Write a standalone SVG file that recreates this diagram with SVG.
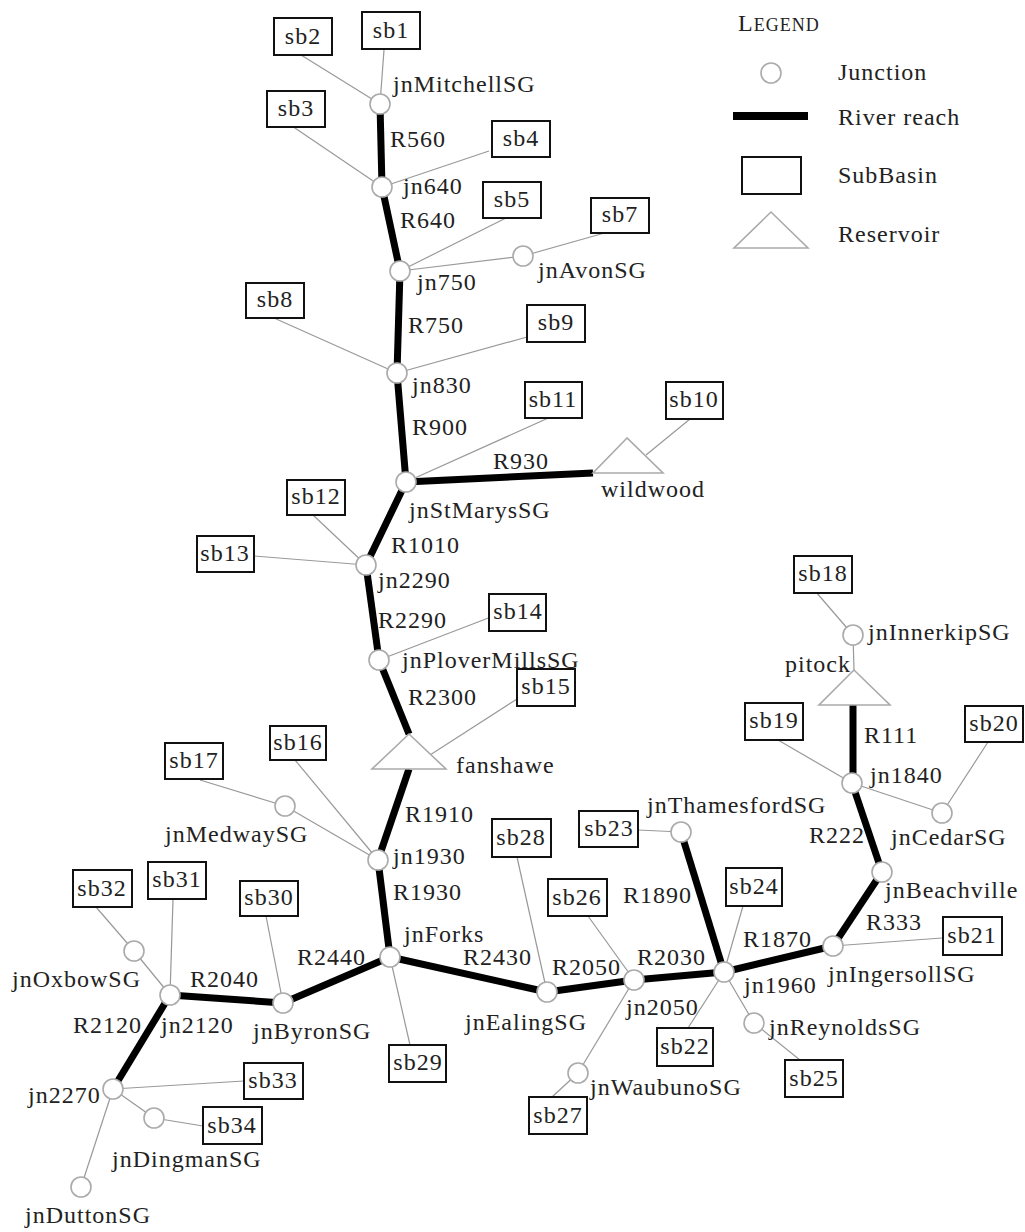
<svg xmlns="http://www.w3.org/2000/svg" width="1025" height="1232" viewBox="0 0 1025 1232">
<style>
text{font-family:"Liberation Serif","Times New Roman",serif;font-size:24px;fill:#222;letter-spacing:1px}
.bt{text-anchor:middle}
.jn{fill:#fff;stroke:#aaa;stroke-width:1.6}
.sb{fill:#fff;stroke:#111;stroke-width:2}
.rs{fill:#fff;stroke:#aaa;stroke-width:1.6}
.rv{stroke:#000;stroke-width:7;fill:none;stroke-linecap:butt}
.ln{stroke:#999;stroke-width:1.2;fill:none}
</style>
<rect width="1025" height="1232" fill="#fff"/>
<g id="legend">
<text x="738" y="31">L<tspan font-size="18">EGEND</tspan></text>
<circle class="jn" cx="771" cy="73" r="10"/>
<text x="838" y="80">Junction</text>
<line x1="733" y1="116" x2="808" y2="116" stroke="#000" stroke-width="8"/>
<text x="838" y="125">River reach</text>
<rect class="sb" x="742" y="157" width="59" height="37"/>
<text x="838" y="183">SubBasin</text>
<polygon class="rs" points="771,212 734,248 808,248"/>
<text x="838" y="242">Reservoir</text>
</g>
<g id="connectors">
<g class="rivers">
<line class="rv" x1="380" y1="104" x2="382" y2="187"/>
<line class="rv" x1="382" y1="187" x2="400" y2="271"/>
<line class="rv" x1="400" y1="271" x2="397" y2="373"/>
<line class="rv" x1="397" y1="373" x2="406" y2="482"/>
<line class="rv" x1="406" y1="482" x2="593" y2="473"/>
<line class="rv" x1="406" y1="482" x2="366" y2="565"/>
<line class="rv" x1="366" y1="565" x2="379" y2="660"/>
<line class="rv" x1="379" y1="660" x2="409" y2="734"/>
<line class="rv" x1="409" y1="769" x2="378" y2="860"/>
<line class="rv" x1="378" y1="860" x2="390" y2="957"/>
<line class="rv" x1="390" y1="957" x2="283" y2="1003"/>
<line class="rv" x1="283" y1="1003" x2="170" y2="995"/>
<line class="rv" x1="170" y1="995" x2="113" y2="1089"/>
<line class="rv" x1="390" y1="957" x2="547" y2="992"/>
<line class="rv" x1="547" y1="992" x2="634" y2="980"/>
<line class="rv" x1="634" y1="980" x2="724" y2="972"/>
<line class="rv" x1="681" y1="832" x2="724" y2="972"/>
<line class="rv" x1="724" y1="972" x2="833" y2="946"/>
<line class="rv" x1="833" y1="946" x2="882" y2="872"/>
<line class="rv" x1="882" y1="872" x2="852" y2="783"/>
<line class="rv" x1="853" y1="783" x2="853" y2="705"/>
</g>
<g class="links">
<line class="ln" x1="384" y1="50" x2="380" y2="104"/>
<line class="ln" x1="301" y1="55" x2="380" y2="104"/>
<line class="ln" x1="292" y1="126" x2="382" y2="187"/>
<line class="ln" x1="489" y1="151" x2="382" y2="187"/>
<line class="ln" x1="506" y1="218" x2="400" y2="271"/>
<line class="ln" x1="523" y1="256" x2="400" y2="271"/>
<line class="ln" x1="608" y1="232" x2="523" y2="256"/>
<line class="ln" x1="274" y1="318" x2="397" y2="373"/>
<line class="ln" x1="527" y1="337" x2="397" y2="373"/>
<line class="ln" x1="555" y1="415" x2="406" y2="482"/>
<line class="ln" x1="690" y1="419" x2="646" y2="455"/>
<line class="ln" x1="313" y1="515" x2="366" y2="565"/>
<line class="ln" x1="254" y1="556" x2="366" y2="565"/>
<line class="ln" x1="491" y1="617" x2="379" y2="660"/>
<line class="ln" x1="517" y1="699" x2="430" y2="755"/>
<line class="ln" x1="295" y1="760" x2="378" y2="860"/>
<line class="ln" x1="200" y1="780" x2="285" y2="806"/>
<line class="ln" x1="285" y1="806" x2="378" y2="860"/>
<line class="ln" x1="517" y1="857" x2="547" y2="992"/>
<line class="ln" x1="410" y1="1045" x2="390" y2="957"/>
<line class="ln" x1="266" y1="916" x2="283" y2="1003"/>
<line class="ln" x1="173" y1="899" x2="170" y2="995"/>
<line class="ln" x1="96" y1="907" x2="134" y2="951"/>
<line class="ln" x1="134" y1="951" x2="170" y2="995"/>
<line class="ln" x1="244" y1="1081" x2="113" y2="1089"/>
<line class="ln" x1="154" y1="1118" x2="113" y2="1089"/>
<line class="ln" x1="203" y1="1126" x2="154" y2="1118"/>
<line class="ln" x1="81" y1="1187" x2="113" y2="1089"/>
<line class="ln" x1="638" y1="830" x2="681" y2="832"/>
<line class="ln" x1="588" y1="916" x2="634" y2="980"/>
<line class="ln" x1="578" y1="1073" x2="634" y2="980"/>
<line class="ln" x1="552" y1="1097" x2="578" y2="1073"/>
<line class="ln" x1="743" y1="906" x2="724" y2="972"/>
<line class="ln" x1="688" y1="1028" x2="724" y2="972"/>
<line class="ln" x1="754" y1="1023" x2="724" y2="972"/>
<line class="ln" x1="800" y1="1060" x2="754" y2="1023"/>
<line class="ln" x1="942" y1="938" x2="833" y2="946"/>
<line class="ln" x1="816" y1="592" x2="853" y2="635"/>
<line class="ln" x1="853" y1="635" x2="854" y2="670"/>
<line class="ln" x1="778" y1="740" x2="852" y2="783"/>
<line class="ln" x1="942" y1="813" x2="852" y2="783"/>
<line class="ln" x1="988" y1="742" x2="942" y2="813"/>
</g>
</g>
<g id="sb1"><rect class="sb" x="362" y="12" width="58" height="37"/><text class="bt" x="391" y="38">sb1</text></g>
<g id="sb2"><rect class="sb" x="274" y="18" width="58" height="37"/><text class="bt" x="303" y="44">sb2</text></g>
<g id="sb3"><rect class="sb" x="267" y="91" width="58" height="36"/><text class="bt" x="296" y="116">sb3</text></g>
<g id="sb4"><rect class="sb" x="492" y="121" width="58" height="36"/><text class="bt" x="521" y="146">sb4</text></g>
<g id="sb5"><rect class="sb" x="483" y="182" width="58" height="36"/><text class="bt" x="512" y="207">sb5</text></g>
<g id="sb7"><rect class="sb" x="591" y="198" width="58" height="35"/><text class="bt" x="620" y="222">sb7</text></g>
<g id="sb8"><rect class="sb" x="246" y="283" width="58" height="35"/><text class="bt" x="275" y="307">sb8</text></g>
<g id="sb9"><rect class="sb" x="527" y="305" width="58" height="37"/><text class="bt" x="556" y="330">sb9</text></g>
<g id="sb10"><rect class="sb" x="666" y="382" width="57" height="37"/><text class="bt" x="694" y="407">sb10</text></g>
<g id="sb11"><rect class="sb" x="525" y="382" width="57" height="36"/><text class="bt" x="553" y="407">sb11</text></g>
<g id="sb12"><rect class="sb" x="287" y="480" width="58" height="35"/><text class="bt" x="316" y="504">sb12</text></g>
<g id="sb13"><rect class="sb" x="197" y="536" width="57" height="36"/><text class="bt" x="225" y="561">sb13</text></g>
<g id="sb14"><rect class="sb" x="489" y="594" width="57" height="37"/><text class="bt" x="518" y="619">sb14</text></g>
<g id="sb15"><rect class="sb" x="517" y="669" width="58" height="37"/><text class="bt" x="546" y="694">sb15</text></g>
<g id="sb16"><rect class="sb" x="270" y="726" width="56" height="34"/><text class="bt" x="298" y="750">sb16</text></g>
<g id="sb17"><rect class="sb" x="165" y="743" width="58" height="36"/><text class="bt" x="194" y="768">sb17</text></g>
<g id="sb18"><rect class="sb" x="794" y="556" width="58" height="37"/><text class="bt" x="823" y="581">sb18</text></g>
<g id="sb19"><rect class="sb" x="745" y="703" width="58" height="37"/><text class="bt" x="774" y="728">sb19</text></g>
<g id="sb20"><rect class="sb" x="965" y="706" width="58" height="36"/><text class="bt" x="994" y="731">sb20</text></g>
<g id="sb21"><rect class="sb" x="943" y="917" width="59" height="38"/><text class="bt" x="972" y="943">sb21</text></g>
<g id="sb22"><rect class="sb" x="657" y="1028" width="56" height="38"/><text class="bt" x="685" y="1054">sb22</text></g>
<g id="sb23"><rect class="sb" x="579" y="811" width="59" height="36"/><text class="bt" x="609" y="836">sb23</text></g>
<g id="sb24"><rect class="sb" x="726" y="868" width="56" height="38"/><text class="bt" x="754" y="894">sb24</text></g>
<g id="sb25"><rect class="sb" x="785" y="1060" width="58" height="37"/><text class="bt" x="814" y="1086">sb25</text></g>
<g id="sb26"><rect class="sb" x="548" y="879" width="59" height="37"/><text class="bt" x="577" y="905">sb26</text></g>
<g id="sb27"><rect class="sb" x="529" y="1097" width="58" height="37"/><text class="bt" x="558" y="1123">sb27</text></g>
<g id="sb28"><rect class="sb" x="492" y="819" width="59" height="38"/><text class="bt" x="521" y="845">sb28</text></g>
<g id="sb29"><rect class="sb" x="389" y="1045" width="57" height="37"/><text class="bt" x="418" y="1070">sb29</text></g>
<g id="sb30"><rect class="sb" x="240" y="881" width="58" height="35"/><text class="bt" x="269" y="905">sb30</text></g>
<g id="sb31"><rect class="sb" x="148" y="862" width="58" height="37"/><text class="bt" x="177" y="887">sb31</text></g>
<g id="sb32"><rect class="sb" x="73" y="870" width="59" height="37"/><text class="bt" x="102" y="896">sb32</text></g>
<g id="sb33"><rect class="sb" x="244" y="1063" width="59" height="36"/><text class="bt" x="273" y="1088">sb33</text></g>
<g id="sb34"><rect class="sb" x="203" y="1107" width="59" height="37"/><text class="bt" x="232" y="1133">sb34</text></g>
<g id="jnMitchellSG"><circle class="jn" cx="380" cy="104" r="10"/><text x="393" y="92">jnMitchellSG</text></g>
<g id="jn640"><circle class="jn" cx="382" cy="187" r="10"/><text x="403" y="194">jn640</text></g>
<g id="jn750"><circle class="jn" cx="400" cy="271" r="10"/><text x="417" y="290">jn750</text></g>
<g id="jnAvonSG"><circle class="jn" cx="523" cy="256" r="10"/><text x="538" y="278">jnAvonSG</text></g>
<g id="jn830"><circle class="jn" cx="397" cy="373" r="10"/><text x="412" y="393">jn830</text></g>
<g id="jnStMarysSG"><circle class="jn" cx="406" cy="482" r="10"/><text x="409" y="518">jnStMarysSG</text></g>
<g id="wildwood"><polygon class="rs" points="627,438 593,473 663,473"/><text x="601" y="497">wildwood</text></g>
<g id="jn2290"><circle class="jn" cx="366" cy="565" r="10"/><text x="378" y="588">jn2290</text></g>
<g id="jnPloverMillsSG"><circle class="jn" cx="379" cy="660" r="10"/><text x="402" y="668">jnPloverMillsSG</text></g>
<g id="fanshawe"><polygon class="rs" points="409,734 372,769 446,769"/><text x="456" y="773">fanshawe</text></g>
<g id="jnMedwaySG"><circle class="jn" cx="285" cy="806" r="10"/><text x="165" y="842">jnMedwaySG</text></g>
<g id="jn1930"><circle class="jn" cx="378" cy="860" r="10"/><text x="393" y="864">jn1930</text></g>
<g id="jnForks"><circle class="jn" cx="390" cy="957" r="10"/><text x="404" y="942">jnForks</text></g>
<g id="jnByronSG"><circle class="jn" cx="283" cy="1003" r="10"/><text x="253" y="1039">jnByronSG</text></g>
<g id="jn2120"><circle class="jn" cx="170" cy="995" r="10"/><text x="161" y="1033">jn2120</text></g>
<g id="jnOxbowSG"><circle class="jn" cx="134" cy="951" r="10"/><text x="12" y="987">jnOxbowSG</text></g>
<g id="jn2270"><circle class="jn" cx="113" cy="1089" r="10"/><text x="28" y="1103">jn2270</text></g>
<g id="jnDingmanSG"><circle class="jn" cx="154" cy="1118" r="10"/><text x="112" y="1167">jnDingmanSG</text></g>
<g id="jnDuttonSG"><circle class="jn" cx="81" cy="1187" r="10"/><text x="25" y="1223">jnDuttonSG</text></g>
<g id="jnEalingSG"><circle class="jn" cx="547" cy="992" r="10"/><text x="465" y="1030">jnEalingSG</text></g>
<g id="jn2050"><circle class="jn" cx="634" cy="980" r="10"/><text x="626" y="1015">jn2050</text></g>
<g id="jnWaubunoSG"><circle class="jn" cx="578" cy="1073" r="10"/><text x="590" y="1095">jnWaubunoSG</text></g>
<g id="jn1960"><circle class="jn" cx="724" cy="972" r="10"/><text x="744" y="993">jn1960</text></g>
<g id="jnThamesfordSG"><circle class="jn" cx="681" cy="832" r="10"/><text x="647" y="813">jnThamesfordSG</text></g>
<g id="jnReynoldsSG"><circle class="jn" cx="754" cy="1023" r="10"/><text x="769" y="1035">jnReynoldsSG</text></g>
<g id="jnIngersollSG"><circle class="jn" cx="833" cy="946" r="10"/><text x="828" y="982">jnIngersollSG</text></g>
<g id="jnBeachville"><circle class="jn" cx="882" cy="872" r="10"/><text x="885" y="898">jnBeachville</text></g>
<g id="jn1840"><circle class="jn" cx="852" cy="783" r="10"/><text x="870" y="783">jn1840</text></g>
<g id="jnCedarSG"><circle class="jn" cx="942" cy="813" r="10"/><text x="891" y="845">jnCedarSG</text></g>
<g id="pitock"><polygon class="rs" points="854,670 819,705 890,705"/><text x="785" y="672">pitock</text></g>
<g id="jnInnerkipSG"><circle class="jn" cx="853" cy="635" r="10"/><text x="868" y="640">jnInnerkipSG</text></g>
<g id="reach-labels">
<text x="390" y="147">R560</text>
<text x="400" y="228">R640</text>
<text x="408" y="333">R750</text>
<text x="412" y="435">R900</text>
<text x="493" y="469">R930</text>
<text x="391" y="553">R1010</text>
<text x="378" y="628">R2290</text>
<text x="408" y="705">R2300</text>
<text x="405" y="822">R1910</text>
<text x="393" y="900">R1930</text>
<text x="297" y="965">R2440</text>
<text x="190" y="987">R2040</text>
<text x="73" y="1033">R2120</text>
<text x="463" y="965">R2430</text>
<text x="552" y="975">R2050</text>
<text x="637" y="965">R2030</text>
<text x="623" y="903">R1890</text>
<text x="743" y="947">R1870</text>
<text x="866" y="930">R333</text>
<text x="809" y="843">R222</text>
<text x="864" y="743">R111</text>
</g>
</svg>
